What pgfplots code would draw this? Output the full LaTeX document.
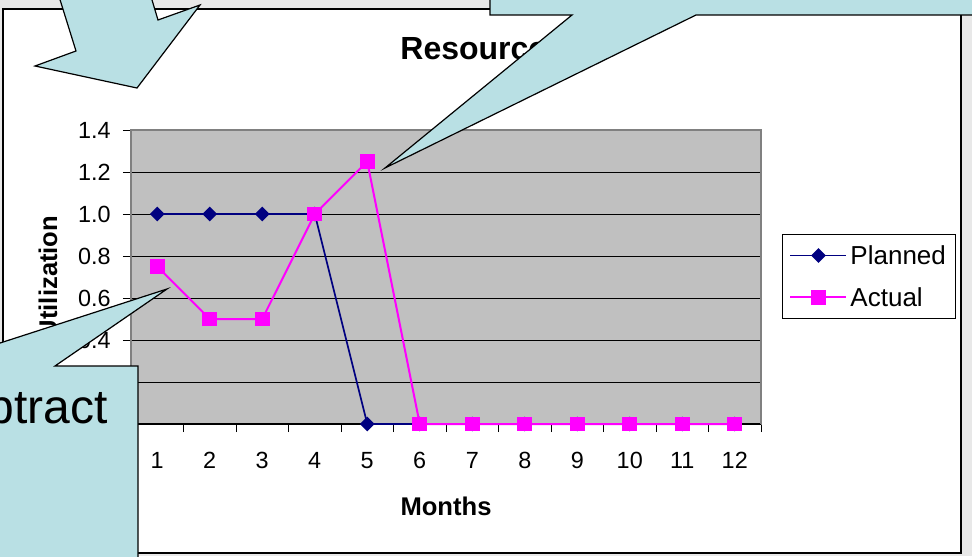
\documentclass[border=0pt]{standalone}
\usepackage{pgfplots}
\pgfplotsset{compat=1.18}
\usepackage{fontspec}
\setmainfont{Liberation Sans}
\definecolor{plotgray}{RGB}{192,192,192}
\definecolor{navyline}{RGB}{0,0,128}
\definecolor{magentaline}{RGB}{255,0,255}
\definecolor{callout}{RGB}{185,224,228}
\definecolor{bggray}{RGB}{232,232,232}
\definecolor{bordergray}{RGB}{128,128,128}
\begin{document}
\begin{tikzpicture}
\useasboundingbox (0,0) rectangle (486pt,-278pt);
\begin{scope}[x=0.5pt,y=-0.5pt]
\fill[bggray] (0,0) rectangle (972,556);
\draw[black, line width=0.8pt, fill=white] (3,9) rectangle (961,553);
\node[anchor=base west, inner sep=0pt, font=\fontsize{16}{19}\selectfont\bfseries] at (400,60) {Resources};
\end{scope}
\begin{axis}[
  at={(65.5pt,-212pt)}, anchor=south west,
  scale only axis, width=315pt, height=147pt,
  xmin=0.5, xmax=12.5, ymin=0, ymax=1.4,
  clip=false,
  xtick={1,2,3,4,5,6,7,8,9,10,11,12},
  xticklabels={1,2,3,4,5,6,7,8,9,10,11,12},
  minor xtick={0.5,1.5,...,12.5},
  ytick={0,0.2,0.4,0.6,0.8,1.0,1.2,1.4},
  yticklabels={,,0.4,0.6,0.8,1.0,1.2,1.4},
  tick align=outside,
  major tick length=4pt, minor tick length=4pt,
  major x tick style={draw=none},
  minor x tick style={draw=black, line width=0.5pt},
  major y tick style={draw=black, line width=0.5pt},
  xtick pos=bottom, ytick pos=left,
  axis line style={draw=bordergray, line width=0.6pt},
  axis background/.style={fill=plotgray},
  ymajorgrids, grid style={black, line width=0.5pt},
  tick label style={font=\fontsize{11.7}{13}\selectfont},
  yticklabel style={anchor=east, inner sep=0pt, xshift=-6pt},
  xticklabel style={anchor=north, inner sep=0pt, yshift=-10pt},
  xlabel={Months}, ylabel={Utilization},
  label style={font=\fontsize{12.8}{15}\selectfont\bfseries},
  xlabel style={at={(axis description cs:0.5,-0.2789)}, anchor=center},
  ylabel style={at={(axis description cs:-0.1317,0.5)}, anchor=center, rotate=0},
  legend style={at={(axis description cs:1.0333,0.6463)}, anchor=north west,
    draw=black, line width=0.5pt, fill=white, inner xsep=3.5pt, inner ysep=0pt,
    font=\fontsize{13}{15}\selectfont, row sep=0pt,
    nodes={inner xsep=1.5pt, inner ysep=5.85pt, text height=9.3pt, text depth=0pt}},
  legend cell align=left,
  legend image code/.code={\draw[mark repeat=2,mark phase=2,#1] plot coordinates {(0pt,0pt) (14pt,0pt) (28pt,0pt)};},
]
\draw[black, line width=0.6pt] (axis description cs:0,0) -- (axis description cs:1,0);
\addplot[navyline, line width=0.85pt, mark=square*, mark size=2.2pt, mark options={rotate=45, fill=navyline, draw=navyline}]
  coordinates {(1,1) (2,1) (3,1) (4,1) (5,0) (6,0) (7,0) (8,0) (9,0) (10,0) (11,0) (12,0)};
\addlegendentry{Planned}
\addplot[magentaline, line width=1pt, mark=square*, mark size=3.2pt, mark options={fill=magentaline, draw=magentaline}]
  coordinates {(1,0.75) (2,0.5) (3,0.5) (4,1.0) (5,1.25) (6,0) (7,0) (8,0) (9,0) (10,0) (11,0) (12,0)};
\addlegendentry{Actual}
\draw[bordergray, line width=0.6pt] (axis description cs:0,1) -- (axis description cs:1,1) -- (axis description cs:1,0);
\end{axis}
\begin{scope}[x=0.5pt,y=-0.5pt]
\clip (0,0) rectangle (972,556);
\draw[fill=callout, line width=0.6pt, line join=miter] (57,-10) -- (76,51) -- (35,66) -- (137,88) -- (200,5) -- (158,20) -- (149,-10) -- cycle;
\draw[fill=callout, line width=0.6pt, line join=miter] (490,-20) -- (490,15) -- (572,15) -- (385,168) -- (696,15) -- (990,15) -- (990,-20) -- cycle;
\draw[fill=callout, line width=0.6pt, line join=miter] (-20,349.5) -- (167,289) -- (55,366) -- (138,366) -- (138,580) -- (-20,580) -- cycle;
\node[anchor=base east, inner sep=0pt, font=\fontsize{24}{28}\selectfont] at (108,423) {Subtract};
\end{scope}
\end{tikzpicture}
\end{document}
